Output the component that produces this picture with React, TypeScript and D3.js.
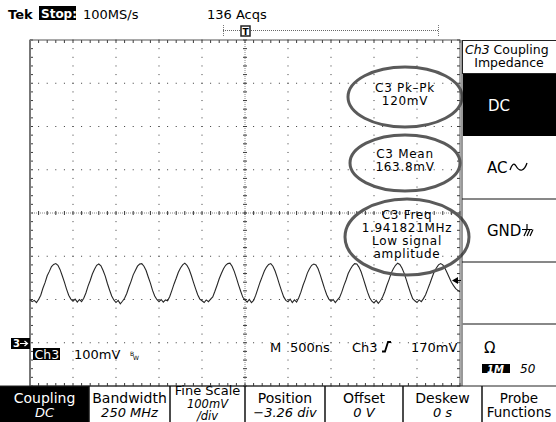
import * as d3 from 'd3';

// ---------------------------------------------------------------------------
// Data
// ---------------------------------------------------------------------------

// Ch3 trace, one sample every 25 ns across the 10 divisions (5 µs), in mV
const sampleStepNs = 25;
const ch3Millivolts = [
  126, 121, 124, 119, 126, 136, 152, 165, 181, 191, 202, 207, 209, 205, 195, 181, 166, 150, 136, 127,
  122, 127, 120, 126, 121, 129, 141, 157, 170, 185, 196, 205, 208, 204, 193, 180, 163, 148, 134, 125,
  119, 124, 116, 122, 129, 140, 155, 168, 183, 193, 203, 208, 209, 203, 193, 178, 164, 147, 134, 126,
  121, 126, 120, 125, 123, 133, 147, 162, 175, 189, 199, 206, 210, 205, 196, 182, 166, 151, 137, 127,
  123, 119, 125, 121, 127, 132, 145, 159, 174, 186, 197, 205, 209, 210, 203, 191, 176, 160, 145, 131,
  125, 120, 126, 119, 124, 136, 151, 166, 179, 192, 201, 207, 209, 203, 192, 177, 161, 146, 132, 124,
  121, 127, 119, 125, 120, 130, 143, 159, 172, 187, 197, 205, 208, 206, 197, 183, 167, 151, 137, 127,
  122, 126, 119, 125, 131, 143, 158, 171, 186, 196, 204, 209, 208, 201, 190, 175, 159, 143, 130, 122,
  118, 124, 117, 123, 132, 144, 159, 172, 187, 197, 205, 210, 207, 199, 187, 172, 156, 141, 128, 123,
  119, 125, 121, 128, 137, 150, 163, 177, 190, 199, 206, 209, 206, 198, 188, 177, 166, 158, 151, 147,
  144,
];

const timeDivNs = 500;
const voltDivMv = 100;
const centerMv = 326; // position -3.26 div
const triggerLevelMv = 170;

const measureNames = ['C3 Pk\u2013Pk', 'C3 Mean', 'C3 Freq'];
const measureValues = ['120mV', '163.8mV', '1.941821MHz'];
const freqWarning = ['Low signal', 'amplitude'];

const menuTitles = ['Coupling', 'Bandwidth', 'Fine Scale', 'Position', 'Offset', 'Deskew', 'Probe'];
const menuValues = ['DC', '250 MHz', '100mV', '\u22123.26 div', '0 V', '0 s', 'Functions'];

// ---------------------------------------------------------------------------
// Layout / colours
// ---------------------------------------------------------------------------

const W = 556;
const H = 422;
const FONT = '"DejaVu Sans", Verdana, sans-serif';
const GRID = '#3a3a3a';
const TRACE = '#262626';
const RING = '#5a5a5a';

const plot = { left: 30, right: 460, top: 40, bottom: 386 };
const menuEdges = [0, 89, 170, 245, 325, 403, 482, W];

export default function App() {
  const x = d3.scaleLinear().domain([0, 10 * timeDivNs]).range([plot.left, plot.right]);
  const y = d3
    .scaleLinear()
    .domain([centerMv - 4 * voltDivMv, centerMv + 4 * voltDivMv])
    .range([plot.bottom, plot.top]);

  const xMajor = d3.range(0, 10 * timeDivNs + 1, timeDivNs);
  const xMinor = d3.range(0, 10 * timeDivNs + 1, timeDivNs / 5);
  const yMajor = d3.range(0, 9).map((i) => centerMv - 4 * voltDivMv + i * voltDivMv);
  const yMinor = d3.range(0, 41).map((i) => centerMv - 4 * voltDivMv + i * (voltDivMv / 5));
  const xMid = x(5 * timeDivNs);
  const yMid = y(centerMv);

  const line = d3
    .line<number>()
    .x((_d, i) => x(i * sampleStepNs))
    .y((d) => y(d));

  // dots on the non-centre graticule lines
  const dots: { cx: number; cy: number }[] = [];
  xMajor.slice(1, -1).forEach((t, i) => {
    if (i === 4) return;
    yMinor.forEach((v) => dots.push({ cx: x(t), cy: y(v) }));
  });
  yMajor.slice(1, -1).forEach((v, i) => {
    if (i === 3) return;
    xMinor.forEach((t) => dots.push({ cx: x(t), cy: y(v) }));
  });

  const ellipses = [
    { cx: 405, cy: 97, rx: 57, ry: 30 },
    { cx: 405, cy: 163, rx: 55, ry: 28 },
    { cx: 407, cy: 237, rx: 62, ry: 38 },
  ];

  const trigY = y(triggerLevelMv);

  return (
    <svg
      width={W}
      height={H}
      viewBox={`0 0 ${W} ${H}`}
      style={{ position: 'absolute', left: 0, top: 0, background: '#fff' }}
      fontFamily={FONT}
    >
      <rect width={W} height={H} fill="#fff" />

      {/* Header */}
      <text x={8} y={19} fontSize={13} fontWeight="bold">Tek</text>
      <rect x={39} y={6} width={37} height={14} fill="#000" />
      <text x={41} y={18} fontSize={12} fontWeight="bold" fill="#fff">Stop:</text>
      <text x={83} y={19} fontSize={13}>100MS/s</text>
      <text x={207} y={19} fontSize={13}>136 Acqs</text>

      {/* record view bracket + trigger position */}
      <line x1={223} x2={438} y1={30.5} y2={30.5} stroke="#666" strokeDasharray="1,1" />
      <line x1={223.5} x2={223.5} y1={25} y2={36} stroke="#777" strokeDasharray="1,1" />
      <line x1={438.5} x2={438.5} y1={25} y2={36} stroke="#777" strokeDasharray="1,1" />
      <rect x={241} y={26} width={9} height={10} fill="#fff" stroke="#222" strokeWidth={1.5} />
      <text x={245.5} y={34.5} fontSize={9} fontWeight="bold" textAnchor="middle">T</text>

      {/* Graticule */}
      {dots.map((d, i) => (
        <rect key={i} x={d.cx - 0.5} y={d.cy - 0.5} width={1} height={1} fill={GRID} />
      ))}
      <line x1={plot.left} x2={plot.right} y1={yMid} y2={yMid} stroke="#888" strokeDasharray="1,1" />
      <line x1={xMid} x2={xMid} y1={plot.top} y2={plot.bottom} stroke="#888" strokeDasharray="1,1" />
      {xMinor.map((t) => (
        <g key={`xt${t}`} stroke={GRID}>
          <line x1={x(t)} x2={x(t)} y1={yMid - 2} y2={yMid + 2} />
          <line x1={x(t)} x2={x(t)} y1={plot.top} y2={plot.top + 3} />
          <line x1={x(t)} x2={x(t)} y1={plot.bottom - 3} y2={plot.bottom} />
        </g>
      ))}
      {yMinor.map((v) => (
        <g key={`yt${v}`} stroke={GRID}>
          <line x1={xMid - 2} x2={xMid + 2} y1={y(v)} y2={y(v)} />
          <line x1={plot.left} x2={plot.left + 3} y1={y(v)} y2={y(v)} />
          <line x1={plot.right - 3} x2={plot.right} y1={y(v)} y2={y(v)} />
        </g>
      ))}
      <rect
        x={plot.left}
        y={plot.top}
        width={plot.right - plot.left}
        height={plot.bottom - plot.top}
        fill="none"
        stroke="#555"
        strokeWidth={1}
      />
      <line x1={plot.left} x2={plot.left} y1={plot.top} y2={plot.bottom} stroke="#777" strokeWidth={2} />

      {/* Ch3 trace */}
      <path d={line(ch3Millivolts) ?? ''} fill="none" stroke={TRACE} strokeWidth={1.1} />

      {/* trigger level marker */}
      <path d={`M${plot.right - 8},${trigY} L${plot.right - 2},${trigY - 3.5} L${plot.right - 2},${trigY + 3.5} Z`} fill="#000" />
      <line x1={plot.right - 3} x2={plot.right + 1} y1={trigY} y2={trigY} stroke="#000" />

      {/* Measurement rings */}
      {ellipses.map((e, i) => (
        <ellipse key={i} cx={e.cx} cy={e.cy} rx={e.rx} ry={e.ry} fill="none" stroke={RING} strokeWidth={3} />
      ))}
      {measureNames.map((name, i) => {
        const e = ellipses[i];
        const top = i === 2 ? e.cy - 18 : e.cy - 5;
        return (
          <g key={name} fontSize={12} textAnchor="middle" letterSpacing={0.7}>
            <text x={e.cx} y={top}>{name}</text>
            <text x={e.cx} y={top + 13}>{measureValues[i]}</text>
            {i === 2 &&
              freqWarning.map((w, j) => (
                <text key={w} x={e.cx} y={top + 26 + j * 13}>{w}</text>
              ))}
          </g>
        );
      })}

      {/* Channel / timebase readouts */}
      <rect x={11} y={338} width={19} height={11} fill="#000" />
      <text x={13} y={347} fontSize={10} fontWeight="bold" fill="#fff">3</text>
      <path d="M20,343.5 L27,343.5 M24.5,341 L27.5,343.5 L24.5,346" stroke="#fff" strokeWidth={1.2} fill="none" />
      <rect x={33} y={348} width={27} height={12} fill="#000" />
      <text x={34.5} y={358.5} fontSize={12.5} fill="#fff">Ch3</text>
      <text x={74} y={359} fontSize={13}>100mV</text>
      <text x={130} y={356} fontSize={6}>B</text>
      <text x={133} y={360} fontSize={6}>W</text>

      <text x={270} y={352} fontSize={13}>M</text>
      <text x={290} y={352} fontSize={13}>500ns</text>
      <text x={352} y={352} fontSize={13}>Ch3</text>
      <path d="M382,351.5 L385,351.5 L388,342 L391,342" stroke="#000" strokeWidth={1.8} fill="none" />
      <text x={411} y={352} fontSize={13}>170mV</text>

      {/* Side menu */}
      <line x1={462} x2={462} y1={plot.top} y2={plot.bottom} stroke="#333" />
      <rect x={462.5} y={40.5} width={94} height={33} fill="#fff" stroke="#222" />
      <text x={465} y={53.5} fontSize={12.5}>
        <tspan fontStyle="italic">Ch3</tspan> Coupling
      </text>
      <text x={509} y={67} fontSize={12.5} textAnchor="middle">Impedance</text>
      <rect x={463} y={74} width={93} height={62} fill="#000" />
      <text x={488} y={111} fontSize={15} fill="#fff">DC</text>
      <text x={487} y={173} fontSize={15}>AC</text>
      <path d="M510,170 Q513,161 516,166 T522,170 T527,163" fill="none" stroke="#000" strokeWidth={1.3} />
      <line x1={462} x2={W} y1={199} y2={199} stroke="#111" />
      <text x={487} y={236} fontSize={15}>GND</text>
      <path d="M522,229.5 L532,229.5 M527,224 L527,229.5 M524,236 L527,229.5 M527,236 L530,229.5 M530,236 L533,229.5" fill="none" stroke="#000" strokeWidth={1.2} />
      <line x1={462} x2={W} y1={262} y2={262} stroke="#111" />
      <line x1={462} x2={W} y1={324} y2={324} stroke="#888" strokeWidth={2} />
      <text x={484} y={353} fontSize={15}>{'\u03A9'}</text>
      <rect x={482} y={364} width={28} height={9} fill="#000" />
      <text x={487} y={372.5} fontSize={10} fontStyle="italic" fontWeight="bold" fill="#fff">1M</text>
      <text x={520} y={373} fontSize={12} fontStyle="italic">50</text>

      {/* Bottom menu */}
      <rect x={menuEdges[0]} y={386} width={menuEdges[1] - menuEdges[0]} height={H - 386} fill="#000" />
      <line x1={0} x2={W} y1={386} y2={386} stroke="#222" />
      {menuEdges.slice(1, -1).map((e) => (
        <line key={e} x1={e} x2={e} y1={386} y2={H} stroke="#111" strokeWidth={1.5} />
      ))}
      {menuTitles.map((title, i) => {
        const cx = (menuEdges[i] + menuEdges[i + 1]) / 2;
        const fill = i === 0 ? '#fff' : '#000';
        const fine = i === 2;
        const plainSecond = i === menuTitles.length - 1;
        return (
          <g key={title} textAnchor="middle" fill={fill}>
            <text x={cx} y={fine ? 395 : 402.5} fontSize={fine ? 13 : plainSecond ? 13.5 : 14}>{title}</text>
            <text
              x={cx}
              y={fine ? 407.5 : 417}
              fontSize={plainSecond ? 13.5 : fine ? 11.5 : 13}
              fontStyle={plainSecond ? 'normal' : 'italic'}
            >
              {menuValues[i]}
            </text>
            {fine && (
              <text x={cx} y={420} fontSize={11.5} fontStyle="italic">/div</text>
            )}
          </g>
        );
      })}
    </svg>
  );
}
